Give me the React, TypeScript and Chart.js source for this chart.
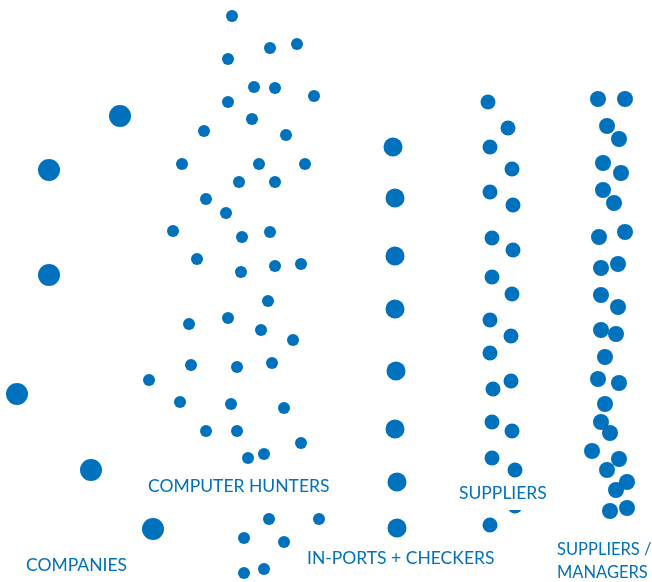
import React, { useEffect, useRef } from "react";
import { Chart, registerables } from "chart.js";

Chart.register(...registerables);

const BLUE = "#0071BC";

// [x, y] positions in chart units (x: 0..652 left→right, y: 0..582 top→bottom)
const companies: [number, number][] = [
  [120, 116], [49, 170], [49, 275], [17, 394], [91, 470], [153, 529],
];

const computerHunters: [number, number][] = [
  [232, 16], [270, 48], [297, 44], [228, 59], [254, 87], [275, 88], [314, 96],
  [228, 102], [252, 119], [204, 131], [286, 135], [182, 164], [259, 164], [305, 164],
  [239, 182], [275, 182], [206, 199], [226, 213], [173, 231], [242, 237], [270, 232],
  [197, 259], [241, 272], [275, 266], [301, 264], [268, 301], [189, 324], [228, 318],
  [261, 330], [293, 340], [191, 365], [237, 367], [272, 363], [149, 380], [180, 402],
  [231, 404], [284, 408], [206, 431], [237, 431], [301, 443], [248, 458], [264, 454],
  [269, 519], [319, 519], [244, 538], [284, 542], [244, 573], [264, 569],
];

const inPortsCheckers: [number, number][] = [
  [393, 147], [395, 198], [395, 256], [395, 309], [396, 371], [395, 429], [397, 482], [397, 528],
];

const suppliers: [number, number][] = [
  [488, 102], [508, 128], [490, 147], [512, 169], [490, 192], [513, 205], [492, 238],
  [513, 250], [492, 277], [512, 294], [490, 320], [511, 336], [490, 353], [511, 381],
  [493, 389], [492, 422], [512, 431], [492, 458], [515, 470], [515, 506], [490, 525],
];

const suppliersManagers: [number, number][] = [
  [598, 99], [625, 99], [607, 126], [619, 139], [603, 163], [621, 173], [603, 190],
  [614, 203], [599, 237], [625, 232], [601, 268], [618, 264], [601, 295], [618, 307],
  [601, 330], [616, 334], [605, 357], [598, 379], [619, 383], [605, 404], [601, 422],
  [610, 433], [592, 451], [619, 459], [607, 470], [627, 482], [616, 490], [610, 511],
  [627, 508],
];

const groupRadii = [11, 6, 9.5, 7.5, 8];

const labelTexts = ["COMPANIES", "COMPUTER HUNTERS", "IN-PORTS + CHECKERS", "SUPPLIERS", "SUPPLIERS /", "MANAGERS"];
const labelX = [26, 148, 307, 459, 557, 557];
const labelY = [565, 486, 558, 493, 550, 573];
const labelSize = [17.5, 17.5, 17.5, 17.5, 16.5, 16.5];

const toPts = (arr: [number, number][]) => arr.map(([x, y]) => ({ x, y }));

const labelPlugin = {
  id: "groupLabels",
  afterDatasetsDraw(chart: any) {
    const ctx = chart.ctx;
    const xs = chart.scales.x;
    const ys = chart.scales.y;
    ctx.save();
    ctx.textBaseline = "middle";
    ctx.textAlign = "left";
    labelTexts.forEach((t, i) => {
      ctx.font = `${labelSize[i]}px Lato, 'Open Sans', sans-serif`;
      const px = xs.getPixelForValue(labelX[i]);
      const py = ys.getPixelForValue(labelY[i]);
      const w = ctx.measureText(t).width;
      ctx.fillStyle = "#ffffff";
      ctx.fillRect(px - 2, py - 10, w + 4, 27);
    });
    labelTexts.forEach((t, i) => {
      ctx.font = `${labelSize[i]}px Lato, 'Open Sans', sans-serif`;
      const px = xs.getPixelForValue(labelX[i]);
      const py = ys.getPixelForValue(labelY[i]);
      ctx.fillStyle = BLUE;
      ctx.fillText(t, px, py);
    });
    ctx.restore();
  },
};

export default function App() {
  const ref = useRef<HTMLCanvasElement>(null);
  useEffect(() => {
    document.body.style.margin = "0";
    const groups = [companies, computerHunters, inPortsCheckers, suppliers, suppliersManagers];
    const chart = new Chart(ref.current!, {
      type: "scatter",
      data: {
        datasets: groups.map((g, i) => ({
          data: toPts(g),
          pointRadius: groupRadii[i],
          pointHoverRadius: groupRadii[i],
          backgroundColor: BLUE,
          borderWidth: 0,
          pointBorderWidth: 0,
        })),
      },
      options: {
        responsive: false,
        animation: false,
        clip: false as any,
        layout: { padding: 0, autoPadding: false },
        plugins: { legend: { display: false }, tooltip: { enabled: false }, title: { display: false } },
        scales: {
          x: { type: "linear", min: 0, max: 652, display: false },
          y: { type: "linear", min: 0, max: 582, reverse: true, display: false },
        },
      },
      plugins: [labelPlugin],
    });
    return () => chart.destroy();
  }, []);
  return (
    <div style={{ width: 652, height: 582, background: "#fff" }}>
      <canvas ref={ref} width={652} height={582} style={{ display: "block" }} />
    </div>
  );
}
